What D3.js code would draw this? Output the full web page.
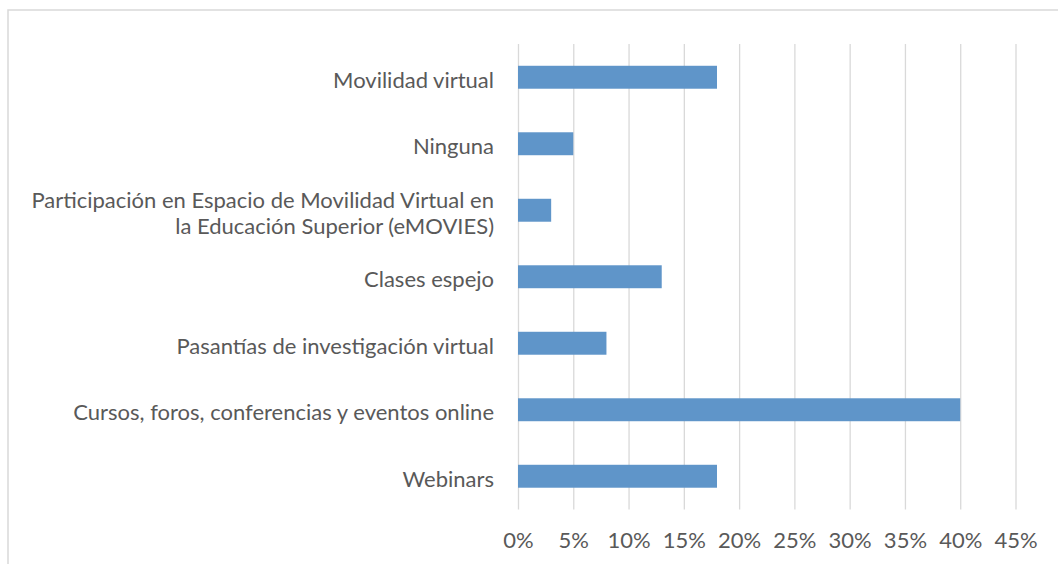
<!DOCTYPE html>
<html>
<head>
<meta charset="utf-8">
<script src="https://cdn.jsdelivr.net/npm/d3@7"></script>
<style>
  body { margin: 0; background: #fff; }
  text { font-family: Lato, "Open Sans", sans-serif; fill: #595959; }
</style>
</head>
<body>
<div id="chart"></div>
<script>
// Data
const categories = [
    "Movilidad virtual",
    "Ninguna",
    "Participación en Espacio de Movilidad Virtual en|la Educación Superior (eMOVIES)",
    "Clases espejo",
    "Pasantías de investigación virtual",
    "Cursos, foros, conferencias y eventos online",
    "Webinars"
];
const values = [0.18, 0.05, 0.03, 0.13, 0.08, 0.40, 0.18];
const tickValues = [0, 0.05, 0.10, 0.15, 0.20, 0.25, 0.30, 0.35, 0.40, 0.45];

const W = 1058, H = 564;
const plot = { left: 518, right: 1015.5, top: 44, bottom: 509.5 };
const fontSize = "22px";

const svg = d3.select("#chart")
    .append("svg")
    .attr("width", W)
    .attr("height", H);

// chart area border
svg.append("rect")
    .attr("x", 8)
    .attr("y", 10)
    .attr("width", W + 10)
    .attr("height", H + 10)
    .attr("fill", "#fff")
    .attr("stroke", "#d9d9d9")
    .attr("stroke-width", 1.5);

const x = d3.scaleLinear()
    .domain([0, 0.45])
    .range([plot.left, plot.right]);

const y = d3.scaleBand()
    .domain(categories)
    .range([plot.top, plot.bottom])
    .paddingInner(0.655)
    .paddingOuter(0.3275);

// gridlines
svg.append("g")
    .attr("transform", `translate(0,${plot.top})`)
    .call(d3.axisBottom(x).tickValues(tickValues).tickSize(plot.bottom - plot.top).tickFormat(""))
    .call(g => g.select(".domain").remove())
    .selectAll("line")
    .attr("stroke", "#d9d9d9")
    .attr("stroke-width", 1.3);

// x tick labels
svg.append("g")
    .attr("transform", `translate(0,${plot.bottom})`)
    .call(d3.axisBottom(x).tickValues(tickValues).tickSize(0).tickPadding(0).tickFormat(d3.format(".0%")))
    .call(g => g.select(".domain").remove())
    .selectAll("text")
    .attr("dy", 0)
    .attr("y", 38.5)
    .style("font-family", "Lato, 'Open Sans', sans-serif")
    .style("font-size", fontSize)
    .attr("fill", "#595959");

// bars
svg.selectAll(".bar")
    .data(categories)
    .join("rect")
    .attr("class", "bar")
    .attr("x", x(0))
    .attr("y", d => y(d))
    .attr("width", (d, i) => x(values[i]) - x(0))
    .attr("height", y.bandwidth())
    .attr("fill", "#5f95c9");

// category labels
const labels = svg.selectAll(".cat")
    .data(categories)
    .join("text")
    .attr("class", "cat")
    .attr("text-anchor", "end")
    .style("font-size", fontSize);

labels.each(function(d) {
    const lines = d.split("|");
    const cy = y(d) + y.bandwidth() / 2;
    const lh = 26;
    d3.select(this).selectAll("tspan")
        .data(lines)
        .join("tspan")
        .attr("x", 494)
        .attr("y", (l, i) => cy + 10.5 + (i - (lines.length - 1) / 2) * lh)
        .text(l => l);
});
</script>
</body>
</html>
